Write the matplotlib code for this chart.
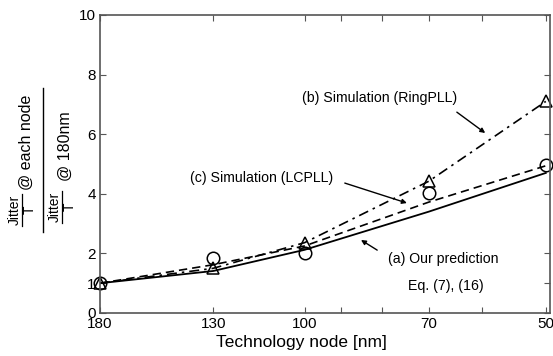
import matplotlib
matplotlib.use("Agg")
import matplotlib.pyplot as plt
from matplotlib.lines import Line2D
from matplotlib.ticker import FixedLocator, FixedFormatter

plt.rcParams['font.family'] = ['Liberation Sans', 'DejaVu Sans']

nodes = [180, 130, 100, 70, 50]
pred_a = [1.0, 1.41, 2.12, 3.4, 4.7]          # (a) our prediction, solid
ring_b = [1.0, 1.5, 2.36, 4.42, 7.1]          # (b) simulation RingPLL, dash-dot + triangles
lc_line = [1.0, 1.62, 2.25, 3.72, 4.94]       # (c) LCPLL, dashed
lc_pts = [1.0, 1.85, 2.01, 4.02, 4.95]        # (c) LCPLL simulation points, circles

xticks_major = [180, 130, 100, 70, 50]
xticks_minor = [90, 80, 60]
yticks = [0, 1, 2, 4, 6, 8, 10]

W, H = 553, 356
fig = plt.figure(figsize=(W/100, H/100), dpi=100)
ax = fig.add_axes([100/W, 1-313/H, 450/W, 298/H])
ax.set_xscale('log')

ax.plot(nodes, pred_a, '-', color='black', lw=1.3)
ax.plot(nodes, lc_line, '--', color='black', lw=1.2, dashes=(5, 3))
ax.plot(nodes, ring_b, '-.', color='black', lw=1.2, dashes=(6, 3, 1.5, 3),
        marker='^', ms=9, mfc='none', mec='black', mew=1.1, clip_on=False)
ax.plot(nodes, lc_pts, 'o', ms=9, mfc='none', mec='black', mew=1.1, clip_on=False)

ax.set_xlim(180, 49.4)
ax.set_ylim(0, 10)
ax.xaxis.set_major_locator(FixedLocator(xticks_major))
ax.xaxis.set_major_formatter(FixedFormatter([str(v) for v in xticks_major]))
ax.xaxis.set_minor_locator(FixedLocator(xticks_minor))
ax.xaxis.set_minor_formatter(FixedFormatter([''] * len(xticks_minor)))
ax.set_yticks(yticks)
ax.set_yticklabels([str(v) for v in yticks])
ax.tick_params(which='both', direction='in', top=True, right=True,
               labelsize=11, color='#555555', length=4, width=0.8, pad=3)
for s in ax.spines.values():
    s.set_color('#555555')
    s.set_linewidth(1.2)

ax.set_xlabel('Technology node [nm]', fontsize=12.5)
ax.xaxis.set_label_coords((301-100)/450, -0.075)

# y label: (Jitter/T @ each node) / (Jitter/T @ 180nm), built from rotated texts
def fx(px):
    return px / W

def fy(py):
    return 1 - py / H

def small_frac(xc, yc):
    fig.text(fx(xc - 7), fy(yc), 'Jitter', rotation=90, ha='center', va='center', fontsize=10)
    fig.add_artist(Line2D([fx(xc), fx(xc)], [fy(yc - 16), fy(yc + 16)], color='black', lw=0.9))
    fig.text(fx(xc + 7.5), fy(yc), 'T', rotation=90, ha='center', va='center', fontsize=10)

small_frac(22, 210)
fig.text(fx(26), fy(142), '@ each node', rotation=90, ha='center', va='center', fontsize=11.5)
fig.add_artist(Line2D([fx(43), fx(43)], [fy(88), fy(232)], color='black', lw=1.0))
small_frac(62, 207)
fig.text(fx(65), fy(146), '@ 180nm', rotation=90, ha='center', va='center', fontsize=11.5)

arrow = dict(arrowstyle='-|>', color='black', lw=1.0, mutation_scale=7, shrinkA=0, shrinkB=0)
fs = 10.2
ax.annotate('', xy=(0.856, 0.604), xytext=(0.793, 0.674),
            xycoords='axes fraction', textcoords='axes fraction', arrowprops=arrow)
ax.text(0.622, 0.721, '(b) Simulation (RingPLL)', transform=ax.transAxes,
        fontsize=fs, ha='center', va='center')
ax.annotate('', xy=(0.682, 0.369), xytext=(0.544, 0.436),
            xycoords='axes fraction', textcoords='axes fraction', arrowprops=arrow)
ax.text(0.36, 0.453, '(c) Simulation (LCPLL)', transform=ax.transAxes,
        fontsize=fs, ha='center', va='center')
ax.annotate('', xy=(0.58, 0.245), xytext=(0.616, 0.211),
            xycoords='axes fraction', textcoords='axes fraction', arrowprops=arrow)
ax.text(0.762, 0.181, '(a) Our prediction', transform=ax.transAxes,
        fontsize=fs, ha='center', va='center')
ax.text(0.769, 0.091, 'Eq. (7), (16)', transform=ax.transAxes,
        fontsize=fs, ha='center', va='center')

fig.savefig('out.png', dpi=100)
